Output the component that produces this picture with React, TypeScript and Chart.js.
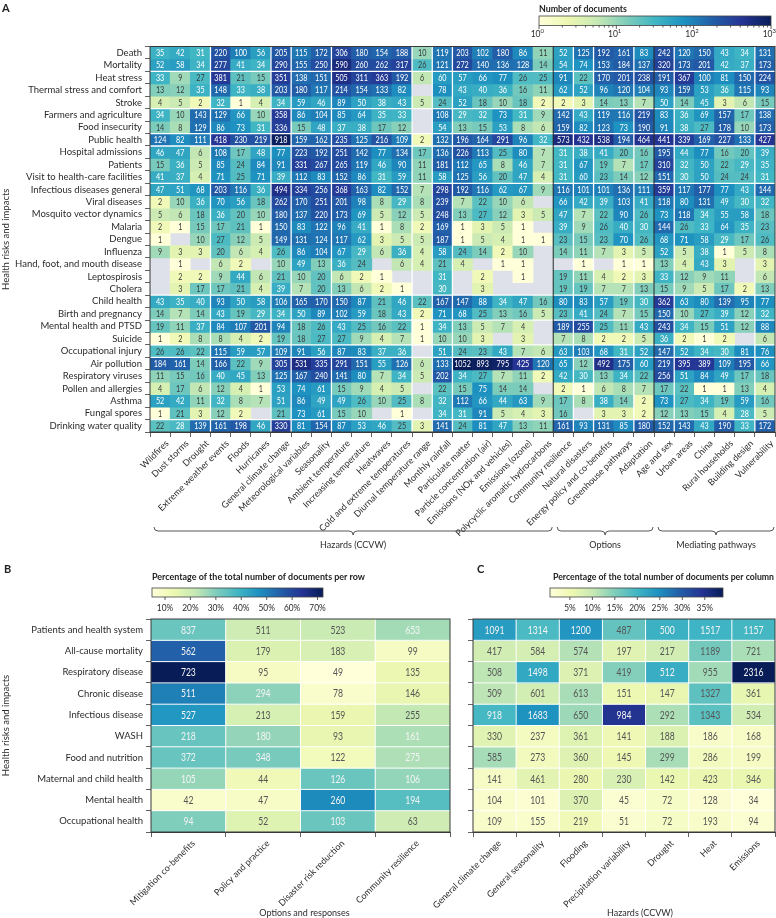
import React, { useEffect, useRef } from 'react';
import { Chart, registerables } from 'chart.js';
Chart.register(...registerables);

const FONT = 'Lato, "Liberation Sans", sans-serif';
const TXT = '#2b2b2b';
const AXIS = '#3a3a3a';
const EMPTY = '#dfe1ea';
const N = null;

// ---------- Panel A ----------
const rowsA = ['Death', 'Mortality', 'Heat stress', 'Thermal stress and comfort', 'Stroke', 'Farmers and agriculture', 'Food insecurity', 'Public health', 'Hospital admissions', 'Patients', 'Visit to health-care facilities', 'Infectious diseases general', 'Viral diseases', 'Mosquito vector dynamics', 'Malaria', 'Dengue', 'Influenza', 'Hand, foot, and mouth disease', 'Leptospirosis', 'Cholera', 'Child health', 'Birth and pregnancy', 'Mental health and PTSD', 'Suicide', 'Occupational injury', 'Air pollution', 'Respiratory viruses', 'Pollen and allergies', 'Asthma', 'Fungal spores', 'Drinking water quality'];
const colsA = ['Wildfires', 'Dust storms', 'Drought', 'Extreme weather events', 'Floods', 'Hurricanes', 'General climate change', 'Meteorological variables', 'Seasonality', 'Ambient temperature', 'Increasing temperature', 'Heatwaves', 'Cold and extreme temperatures', 'Diurnal temperature range', 'Monthly rainfall', 'Particulate matter', 'Particle concentration (air)', 'Emissions (NOx and vehicles)', 'Emissions (ozone)', 'Polycyclic aromatic hydrocarbons', 'Community resilience', 'Natural disasters', 'Energy policy and co-benefits', 'Greenhouse pathways', 'Adaptation', 'Age and sex', 'Urban areas', 'China', 'Rural households', 'Building design', 'Vulnerability'];

const aDeath = [35, 42, 31, 220, 100, 56, 205, 115, 172, 306, 180, 154, 188, 10, 119, 203, 102, 180, 86, 11, 52, 125, 192, 161, 83, 242, 120, 150, 43, 34, 131];
const aMortality = [52, 58, 34, 277, 41, 34, 290, 155, 250, 590, 260, 262, 317, 26, 121, 272, 140, 136, 128, 14, 54, 74, 153, 184, 137, 320, 173, 201, 42, 37, 173];
const aHeatStress = [33, 9, 27, 381, 21, 15, 351, 138, 151, 505, 311, 363, 192, 6, 60, 57, 66, 77, 26, 25, 91, 22, 170, 201, 238, 191, 367, 100, 81, 150, 224];
const aThermal = [13, 12, 35, 148, 33, 38, 203, 180, 117, 214, 154, 133, 82, N, 78, 43, 40, 36, 16, 11, 62, 52, 96, 120, 104, 93, 159, 53, 36, 115, 93];
const aStroke = [4, 5, 2, 32, 1, 4, 34, 59, 46, 89, 50, 38, 43, 5, 24, 52, 18, 10, 18, 2, 2, 3, 14, 13, 7, 50, 14, 45, 3, 6, 15];
const aFarmers = [34, 10, 143, 129, 66, 10, 358, 86, 104, 85, 64, 35, 33, N, 108, 29, 32, 73, 31, 9, 142, 43, 119, 116, 219, 83, 36, 69, 157, 17, 138];
const aFoodInsecurity = [14, 8, 129, 86, 73, 31, 336, 15, 48, 37, 38, 17, 12, N, 54, 13, 15, 53, 8, 6, 159, 82, 123, 73, 190, 91, 38, 27, 178, 10, 173];
const aPublicHealth = [124, 82, 111, 418, 230, 219, 918, 159, 162, 235, 125, 216, 109, 2, 132, 196, 164, 291, 96, 32, 573, 432, 538, 194, 464, 441, 339, 169, 227, 133, 427];
const aHospital = [46, 47, 6, 108, 17, 48, 77, 223, 192, 251, 142, 77, 134, 17, 136, 226, 113, 25, 80, 7, 31, 38, 41, 20, 16, 195, 44, 77, 16, 20, 39];
const aPatients = [15, 36, 5, 85, 24, 84, 91, 331, 267, 265, 119, 46, 90, 11, 181, 112, 65, 8, 46, 7, 31, 67, 19, 7, 17, 310, 32, 50, 22, 29, 35];
const aVisit = [41, 37, 4, 71, 25, 71, 39, 112, 83, 152, 86, 31, 59, 11, 58, 125, 56, 20, 47, 4, 31, 60, 23, 14, 12, 151, 30, 50, 24, 24, 31];
const aInfectious = [47, 51, 68, 203, 116, 36, 494, 334, 256, 368, 163, 82, 152, 7, 298, 192, 116, 62, 67, 9, 116, 101, 101, 136, 111, 359, 117, 177, 77, 43, 144];
const aViral = [2, 10, 36, 70, 56, 18, 262, 170, 251, 201, 98, 8, 29, 8, 239, 7, 22, 10, 6, N, 66, 42, 39, 103, 41, 118, 80, 131, 49, 30, 32];
const aMosquito = [5, 6, 18, 36, 20, 10, 180, 137, 220, 173, 69, 5, 12, 5, 248, 13, 27, 12, 3, 5, 47, 7, 22, 90, 26, 73, 118, 34, 55, 58, 18];
const aMalaria = [2, 1, 15, 17, 21, 1, 150, 83, 122, 96, 41, 1, 8, 2, 169, 1, 3, 5, 1, N, 39, 9, 26, 40, 30, 144, 26, 33, 64, 35, 23];
const aDengue = [1, N, 10, 27, 12, 5, 149, 131, 124, 117, 62, 3, 5, 5, 187, 1, 5, 4, 1, 1, 23, 15, 23, 70, 26, 68, 71, 58, 29, 17, 26];
const aInfluenza = [9, 3, 3, 20, 6, 4, 26, 86, 104, 67, 29, 6, 36, 4, 58, 24, 14, 2, 10, N, 14, 11, 7, 3, 5, 52, 5, 38, 1, 5, 8];
const aHandFoot = [N, 1, N, 6, 2, N, 10, 49, 13, 36, 24, N, 6, 4, 21, 4, N, 1, 1, N, N, 1, N, 1, 1, 13, 4, 43, 3, N, 3];
const aLepto = [N, 2, 2, 9, 44, 6, 21, 10, 20, 6, 2, 1, N, N, 31, N, 2, N, 1, N, 19, 11, 4, 2, 3, 33, 12, 9, 11, N, 6];
const aCholera = [N, 3, 17, 17, 21, 4, 39, 7, 20, 13, 6, 2, 1, N, 30, N, 3, N, N, N, 19, 19, 7, 7, 13, 15, 9, 5, 17, 2, 13];
const aChild = [43, 35, 40, 93, 50, 58, 106, 165, 170, 150, 87, 21, 46, 22, 167, 147, 88, 34, 47, 16, 80, 83, 57, 19, 30, 362, 63, 80, 139, 95, 77];
const aBirth = [14, 7, 14, 43, 19, 29, 34, 50, 89, 102, 59, 18, 43, 2, 71, 68, 25, 13, 16, 5, 23, 41, 24, 7, 15, 150, 10, 27, 39, 12, 32];
const aMental = [19, 11, 37, 84, 107, 201, 94, 18, 26, 43, 25, 16, 22, 1, 34, 13, 5, 7, 4, N, 189, 255, 25, 11, 43, 243, 34, 15, 51, 12, 88];
const aSuicide = [1, 2, 8, 8, 4, 2, 19, 18, 27, 27, 9, 4, 7, 1, 10, 10, 3, N, 3, N, 7, 8, 2, 2, 5, 36, 2, 1, 2, N, 6];
const aOccupational = [26, 26, 22, 115, 59, 57, 109, 91, 56, 87, 83, 37, 36, N, 51, 24, 23, 43, 7, 6, 63, 103, 68, 31, 52, 147, 52, 34, 30, 81, 76];
const aAirPollution = [184, 161, 14, 166, 22, 9, 305, 531, 335, 291, 151, 55, 126, 6, 133, 1052, 893, 795, 425, 120, 65, 12, 492, 175, 60, 219, 395, 389, 109, 195, 66];
const aRespViruses = [11, 15, 16, 40, 45, 13, 125, 167, 240, 141, 80, 7, 34, 5, 202, 34, 27, 7, 11, 2, 42, 30, 13, 34, 22, 256, 51, 84, 49, 17, 18];
const aPollen = [4, 17, 6, 12, 4, 1, 53, 74, 61, 15, 9, 4, 5, N, 22, 15, 75, 14, 14, N, 2, 1, 6, 8, 7, 17, 22, 1, 1, 13, 4];
const aAsthma = [52, 42, 11, 32, 8, 7, 51, 86, 49, 49, 26, 10, 25, 8, 32, 112, 66, 44, 63, 9, 17, 8, 38, 14, 2, 73, 27, 34, 19, 59, 16];
const aFungal = [1, 21, 3, 12, 2, N, 21, 73, 61, 15, 10, N, 1, N, 34, 31, 91, 5, 4, 3, 16, N, 3, 3, 2, 12, 13, 15, 4, 28, 5];
const aWater = [22, 28, 139, 161, 198, 46, 330, 81, 154, 87, 53, 46, 25, 3, 141, 24, 81, 47, 13, 11, 161, 93, 131, 85, 180, 152, 143, 43, 190, 33, 172];

const groupsA = [
  { label: 'Hazards (CCVW)', from: 0, to: 19 },
  { label: 'Options', from: 20, to: 24 },
  { label: 'Mediating pathways', from: 25, to: 30 },
];
const whiteColLinesA = [3, 6, 7, 9, 13, 14, 15, 21, 22, 24, 26, 30];
const darkColLinesA = [20, 25];
const whiteRowLinesA = [2, 5, 7, 8, 11, 20, 22, 24, 25, 30];
const cbarTitleA = 'Number of documents';
const cbarMajorA = [1, 10, 100, 1000];
const cbarExpA = ['0', '1', '2', '3'];

// ---------- Panels B and C ----------
const rowsBC = ['Patients and health system', 'All-cause mortality', 'Respiratory disease', 'Chronic disease', 'Infectious disease', 'WASH', 'Food and nutrition', 'Maternal and child health', 'Mental health', 'Occupational health'];
const colsB = ['Mitigation co-benefits', 'Policy and practice', 'Disaster risk reduction', 'Community resilience'];
const bPatients = [837, 511, 523, 653];
const bAllCause = [562, 179, 183, 99];
const bRespiratory = [723, 95, 49, 135];
const bChronic = [511, 294, 78, 146];
const bInfectious = [527, 213, 159, 255];
const bWash = [218, 180, 93, 161];
const bFood = [372, 348, 122, 275];
const bMaternal = [105, 44, 126, 106];
const bMental = [42, 47, 260, 194];
const bOccupational = [94, 52, 103, 63];

const colsC = ['General climate change', 'General seasonality', 'Flooding', 'Precipitation variability', 'Drought', 'Heat', 'Emissions'];
const cPatients = [1091, 1314, 1200, 487, 500, 1517, 1157];
const cAllCause = [417, 584, 574, 197, 217, 1189, 721];
const cRespiratory = [508, 1498, 371, 419, 512, 955, 2316];
const cChronic = [509, 601, 613, 151, 147, 1327, 361];
const cInfectious = [918, 1683, 650, 984, 292, 1343, 534];
const cWash = [330, 237, 361, 141, 188, 186, 168];
const cFood = [585, 273, 360, 145, 299, 286, 199];
const cMaternal = [141, 461, 280, 230, 142, 423, 346];
const cMental = [104, 101, 370, 45, 72, 128, 34];
const cOccupational = [109, 155, 219, 51, 72, 193, 94];

const cbarTitleB = 'Percentage of the total number of documents per row';
const cbarTicksB = [10, 20, 30, 40, 50, 60, 70];
const cbarTitleC = 'Percentage of the total number of documents per column';
const cbarTicksC = [5, 10, 15, 20, 25, 30, 35];
const xTitleB = 'Options and responses';
const xTitleC = 'Hazards (CCVW)';
const yTitle = 'Health risks and impacts';

// ---------- tables built from the arrays ----------
const valuesA: (number | null)[][] = [aDeath, aMortality, aHeatStress, aThermal, aStroke, aFarmers, aFoodInsecurity, aPublicHealth, aHospital, aPatients, aVisit, aInfectious, aViral, aMosquito, aMalaria, aDengue, aInfluenza, aHandFoot, aLepto, aCholera, aChild, aBirth, aMental, aSuicide, aOccupational, aAirPollution, aRespViruses, aPollen, aAsthma, aFungal, aWater];
const valuesB = [bPatients, bAllCause, bRespiratory, bChronic, bInfectious, bWash, bFood, bMaternal, bMental, bOccupational];
const valuesC = [cPatients, cAllCause, cRespiratory, cChronic, cInfectious, cWash, cFood, cMaternal, cMental, cOccupational];

const pctB = valuesB.map((row) => { const s = row.reduce((a, b) => a + b, 0); return row.map((v) => (v / s) * 100); });
const colSumC = colsC.map((_, ci) => valuesC.reduce((a, r) => a + r[ci], 0));
const pctC = valuesC.map((row) => row.map((v, ci) => (v / colSumC[ci]) * 100));
const minB = Math.min(...pctB.flat()), maxB = Math.max(...pctB.flat());
const minC = Math.min(...pctC.flat()), maxC = Math.max(...pctC.flat());

const YLGNBU = [[255, 255, 217], [237, 248, 177], [199, 233, 180], [127, 205, 187], [65, 182, 196], [29, 145, 192], [34, 94, 168], [37, 52, 148], [8, 29, 88]];
function cmap(t: number) {
  const tt = Math.max(0, Math.min(1, t));
  const s = tt * 8;
  const i = Math.min(7, Math.floor(s));
  const f = s - i;
  const a = YLGNBU[i], b = YLGNBU[i + 1];
  return `rgb(${Math.round(a[0] + (b[0] - a[0]) * f)},${Math.round(a[1] + (b[1] - a[1]) * f)},${Math.round(a[2] + (b[2] - a[2]) * f)})`;
}
const tA = (v: number) => Math.log10(v) / 3;

function condText(ctx: CanvasRenderingContext2D, text: string, x: number, y: number, sx: number) {
  ctx.save();
  ctx.translate(x, y);
  ctx.scale(sx, 1);
  ctx.fillText(text, 0, 0);
  ctx.restore();
}
function fitText(ctx: CanvasRenderingContext2D, text: string, x: number, y: number, w: number) {
  const m = ctx.measureText(text).width;
  condText(ctx, text, x, y, Math.min(1, w / m));
}

function drawCbar(ctx: CanvasRenderingContext2D, x: number, y: number, w: number, h: number) {
  const g = ctx.createLinearGradient(x, 0, x + w, 0);
  YLGNBU.forEach((c, i) => g.addColorStop(i / 8, `rgb(${c[0]},${c[1]},${c[2]})`));
  ctx.fillStyle = g;
  ctx.fillRect(x, y, w, h);
  ctx.strokeStyle = '#444';
  ctx.lineWidth = 0.8;
  ctx.strokeRect(x, y, w, h);
}

function brace(ctx: CanvasRenderingContext2D, x1: number, x2: number, y: number, r: number) {
  const mid = (x1 + x2) / 2;
  ctx.beginPath();
  ctx.moveTo(x1, y - r);
  ctx.quadraticCurveTo(x1, y, x1 + r, y);
  ctx.lineTo(mid - r, y);
  ctx.quadraticCurveTo(mid, y, mid, y + r);
  ctx.quadraticCurveTo(mid, y, mid + r, y);
  ctx.lineTo(x2 - r, y);
  ctx.quadraticCurveTo(x2, y, x2, y - r);
  ctx.stroke();
}

function hline(ctx: CanvasRenderingContext2D, x1: number, x2: number, y: number) { ctx.beginPath(); ctx.moveTo(x1, y); ctx.lineTo(x2, y); ctx.stroke(); }
function vline(ctx: CanvasRenderingContext2D, x: number, y1: number, y2: number) { ctx.beginPath(); ctx.moveTo(x, y1); ctx.lineTo(x, y2); ctx.stroke(); }

function rowDatasets(values: (number | null)[][], color: (ri: number, ci: number, v: number) => string) {
  return values.map((row, ri) => ({
    label: String(ri),
    data: row.map((v) => (v == null ? null : [ri, ri + 1])) as any,
    backgroundColor: row.map((v, ci) => (v == null ? 'rgba(0,0,0,0)' : color(ri, ci, v))),
    borderWidth: 0,
    grouped: false,
    barPercentage: 1,
    categoryPercentage: 1,
  }));
}

function xScale(height: number, size: number, labelOffset: number) {
  return {
    type: 'category',
    offset: true,
    grid: { offset: true, drawOnChartArea: false, drawTicks: true, tickLength: 5, color: AXIS, lineWidth: 0.8 },
    border: { display: true, color: AXIS, width: 1 },
    ticks: { autoSkip: false, minRotation: 45, maxRotation: 45, padding: 1, labelOffset, color: TXT, font: { family: FONT, size } },
    afterFit: (s: any) => { s.height = height; },
  };
}

function yScale(rows: string[], width: number, labelOffset: number, showLabels: boolean, title: boolean) {
  return {
    type: 'linear',
    min: 0,
    max: rows.length,
    reverse: true,
    afterBuildTicks: (s: any) => { s.ticks = rows.concat(['']).map((_, i) => ({ value: i })); },
    grid: { drawOnChartArea: false, drawTicks: true, tickLength: 5, color: AXIS, lineWidth: 0.8 },
    border: { display: true, color: AXIS, width: 1 },
    ticks: { autoSkip: false, padding: 3, labelOffset, color: TXT, font: { family: FONT, size: 9.5 }, callback: (v: any) => (showLabels ? rows[v] ?? '' : '') },
    title: { display: title, text: yTitle, color: TXT, font: { family: FONT, size: 9.5 }, padding: { top: 0, bottom: 0 } },
    afterFit: (s: any) => { s.width = width; },
  };
}

function makeA(canvas: HTMLCanvasElement) {
  const plugin = {
    id: 'heatA',
    beforeDatasetsDraw(chart: any) {
      const { ctx, chartArea: ca } = chart;
      ctx.save();
      ctx.fillStyle = EMPTY;
      ctx.fillRect(ca.left, ca.top, ca.right - ca.left, ca.bottom - ca.top);
      ctx.restore();
    },
    afterDatasetsDraw(chart: any) {
      const { ctx, chartArea: ca, scales } = chart;
      const xs = scales.x, ys = scales.y;
      ctx.save();
      ctx.font = `8.8px ${FONT}`;
      ctx.textAlign = 'center';
      ctx.textBaseline = 'middle';
      valuesA.forEach((row, ri) => {
        const meta = chart.getDatasetMeta(ri);
        row.forEach((v, ci) => {
          if (v == null) return;
          const el = meta.data[ci];
          ctx.fillStyle = v >= 28 ? '#ffffff' : '#3a3a3a';
          condText(ctx, String(v), el.x, (el.y + el.base) / 2 + 0.5, 0.82);
        });
      });
      ctx.strokeStyle = '#ffffff';
      ctx.lineWidth = 1.3;
      whiteColLinesA.forEach((i) => vline(ctx, xs.getPixelForValue(i - 0.5), ca.top, ca.bottom));
      whiteRowLinesA.forEach((r) => hline(ctx, ca.left, ca.right, ys.getPixelForValue(r)));
      ctx.strokeStyle = '#2a2a2a';
      ctx.lineWidth = 1;
      darkColLinesA.forEach((i) => vline(ctx, xs.getPixelForValue(i - 0.5), ca.top, ca.bottom));
      ctx.strokeStyle = AXIS;
      ctx.strokeRect(ca.left, ca.top, ca.right - ca.left, ca.bottom - ca.top);
      ctx.restore();
    },
    afterDraw(chart: any) {
      const { ctx, scales } = chart;
      const xs = scales.x;
      ctx.save();
      ctx.strokeStyle = '#444';
      ctx.lineWidth = 0.9;
      ctx.fillStyle = TXT;
      ctx.font = `10px ${FONT}`;
      ctx.textAlign = 'center';
      ctx.textBaseline = 'middle';
      groupsA.forEach((g) => {
        const x1 = xs.getPixelForValue(g.from - 0.5) + 4;
        const x2 = xs.getPixelForValue(g.to + 0.5) - 1;
        brace(ctx, x1, x2, 531, 4);
        condText(ctx, g.label, (x1 + x2) / 2, 545, 0.9);
      });
      const cx = 539, cw = 232, cy = 16, ch = 9.5;
      ctx.font = `bold 10px ${FONT}`;
      ctx.textAlign = 'left';
      ctx.fillStyle = '#222';
      fitText(ctx, cbarTitleA, cx, 9, 88);
      drawCbar(ctx, cx, cy, cw, ch);
      const lo = Math.log10(cbarMajorA[0]), hi = Math.log10(cbarMajorA[cbarMajorA.length - 1]);
      const px = (v: number) => cx + ((Math.log10(v) - lo) / (hi - lo)) * cw;
      ctx.strokeStyle = '#333';
      ctx.lineWidth = 0.8;
      cbarMajorA.forEach((m, k) => {
        vline(ctx, px(m), cy + ch, cy + ch + 3.5);
        if (k < cbarMajorA.length - 1) for (let j = 2; j <= 9; j++) vline(ctx, px(m * j), cy + ch, cy + ch + 2);
      });
      cbarMajorA.forEach((m, k) => {
        const x = px(m);
        ctx.fillStyle = TXT;
        ctx.font = `8.5px ${FONT}`;
        ctx.textAlign = 'right';
        ctx.fillText('10', x + 1.5, 34);
        ctx.font = `6px ${FONT}`;
        ctx.textAlign = 'left';
        ctx.fillText(cbarExpA[k], x + 1.5, 31);
      });
      ctx.fillStyle = '#222';
      ctx.font = `bold 11px ${FONT}`;
      ctx.textAlign = 'left';
      ctx.fillText('A', 2, 8);
      ctx.restore();
    },
  };
  return new Chart(canvas, {
    type: 'bar',
    data: { labels: colsA, datasets: rowDatasets(valuesA, (_r, _c, v) => cmap(tA(v))) as any },
    options: {
      animation: false,
      responsive: false,
      devicePixelRatio: 1,
      layout: { padding: { left: 0, right: 1, top: 46.5, bottom: 0 } },
      plugins: { legend: { display: false }, tooltip: { enabled: false } },
      scales: { x: xScale(128, 9, 7), y: yScale(rowsA, 150, 6.22, true, true) } as any,
    },
    plugins: [plugin],
  });
}

function makeBC(canvas: HTMLCanvasElement, which: 'B' | 'C') {
  const isB = which === 'B';
  const values = isB ? valuesB : valuesC;
  const pct = isB ? pctB : pctC;
  const lo = isB ? minB : minC, hi = isB ? maxB : maxC;
  const tOf = (p: number) => (p - lo) / (hi - lo);
  const thr = isB ? 0.28 : 0.46;
  const plugin = {
    id: 'heat' + which,
    afterDatasetsDraw(chart: any) {
      const { ctx, chartArea: ca, scales } = chart;
      const xs = scales.x, ys = scales.y;
      ctx.save();
      ctx.font = `10.5px ${FONT}`;
      ctx.textAlign = 'center';
      ctx.textBaseline = 'middle';
      values.forEach((row, ri) => {
        const meta = chart.getDatasetMeta(ri);
        row.forEach((v, ci) => {
          const el = meta.data[ci];
          ctx.fillStyle = tOf(pct[ri][ci]) > thr ? '#f4f4f4' : '#555555';
          condText(ctx, String(v), el.x, (el.y + el.base) / 2 + 0.5, 0.82);
        });
      });
      ctx.strokeStyle = '#ffffff';
      ctx.lineWidth = 1;
      for (let i = 1; i < values[0].length; i++) vline(ctx, xs.getPixelForValue(i - 0.5), ca.top, ca.bottom);
      for (let r = 1; r < values.length; r++) hline(ctx, ca.left, ca.right, ys.getPixelForValue(r));
      ctx.strokeStyle = AXIS;
      ctx.strokeRect(ca.left, ca.top, ca.right - ca.left, ca.bottom - ca.top);
      ctx.restore();
    },
    afterDraw(chart: any) {
      const { ctx, chartArea: ca } = chart;
      ctx.save();
      const ticks = isB ? cbarTicksB : cbarTicksC;
      const cx = isB ? 152 : 150, cw = isB ? 171 : 173, cy = 28, ch = 9;
      const tx = isB ? 152 : 153;
      ctx.fillStyle = '#222';
      ctx.font = `bold 10px ${FONT}`;
      ctx.textAlign = 'left';
      ctx.textBaseline = 'middle';
      fitText(ctx, isB ? cbarTitleB : cbarTitleC, tx, 17, isB ? 213 : 221);
      ctx.font = `bold 11px ${FONT}`;
      ctx.fillText(which, isB ? 4 : 77, 9);
      drawCbar(ctx, cx, cy, cw, ch);
      ctx.strokeStyle = '#333';
      ctx.lineWidth = 0.8;
      ctx.fillStyle = TXT;
      ctx.font = `9.5px ${FONT}`;
      ctx.textAlign = 'center';
      ticks.forEach((t) => {
        const x = cx + tOf(t) * cw;
        vline(ctx, x, cy + ch, cy + ch + 3);
        condText(ctx, `${t}%`, x, 48, 0.88);
      });
      ctx.font = `10px ${FONT}`;
      condText(ctx, isB ? xTitleB : xTitleC, isB ? (ca.left + ca.right) / 2 + 4 : (ca.left + ca.right) / 2 + 16, 353, 0.9);
      ctx.restore();
    },
  };
  return new Chart(canvas, {
    type: 'bar',
    data: {
      labels: isB ? colsB : colsC,
      datasets: rowDatasets(values, (ri, ci) => cmap(tOf(pct[ri][ci]))) as any,
    },
    options: {
      animation: false,
      responsive: false,
      devicePixelRatio: 1,
      layout: { padding: { left: 0, right: isB ? 10 : 1, top: 59, bottom: 0 } },
      plugins: { legend: { display: false }, tooltip: { enabled: false } },
      scales: { x: xScale(86, 9, 5), y: yScale(rowsBC, isB ? 151 : 73, 10.65, isB, isB) } as any,
    },
    plugins: [plugin],
  });
}

export default function App() {
  const refA = useRef<HTMLCanvasElement>(null);
  const refB = useRef<HTMLCanvasElement>(null);
  const refC = useRef<HTMLCanvasElement>(null);
  useEffect(() => {
    Chart.defaults.font.family = FONT;
    const charts = [makeA(refA.current!), makeBC(refB.current!, 'B'), makeBC(refC.current!, 'C')];
    return () => charts.forEach((c) => c.destroy());
  }, []);
  const abs = (l: number, t: number, w: number, h: number) => ({ position: 'absolute' as const, left: l, top: t, width: w, height: h });
  return (
    <div style={{ ...abs(0, 0, 776, 918), background: '#ffffff', overflow: 'hidden' }}>
      <canvas ref={refA} width={776} height={560} style={abs(0, 0, 776, 560)} />
      <canvas ref={refB} width={460} height={358} style={abs(0, 560, 460, 358)} />
      <canvas ref={refC} width={376} height={358} style={abs(400, 560, 376, 358)} />
    </div>
  );
}
